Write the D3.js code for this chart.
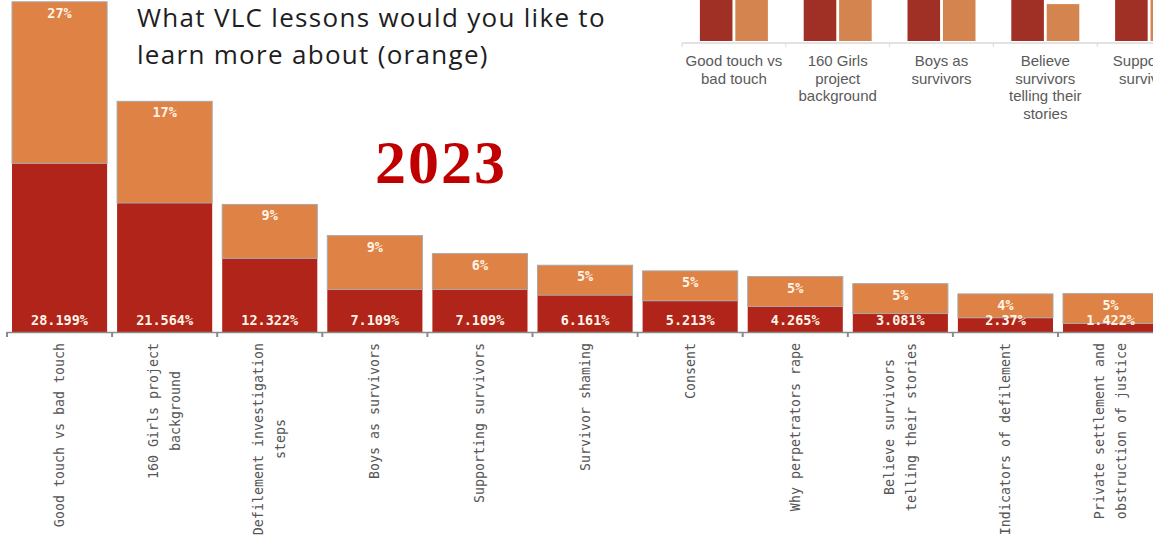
<!DOCTYPE html>
<html><head><meta charset="utf-8">
<script src="https://cdn.jsdelivr.net/npm/d3@7"></script>
<style>
html,body{margin:0;padding:0;background:#fff;overflow:hidden}
svg{display:block}
</style></head><body>
<svg id="chart" width="1153" height="548"></svg>
<script>
// 2023 survey: share who learned each lesson (dark red) and who want to learn more (orange)
const lessons = [
  "Good touch vs bad touch",
  "160 Girls project background",
  "Defilement investigation steps",
  "Boys as survivors",
  "Supporting survivors",
  "Survivor shaming",
  "Consent",
  "Why perpetrators rape",
  "Believe survivors telling their stories",
  "Indicators of defilement",
  "Private settlement and obstruction of justice"
];
const learned  = [28.199, 21.564, 12.322, 7.109, 7.109, 6.161, 5.213, 4.265, 3.081, 2.37, 1.422];
const wantMore = [27, 17, 9, 9, 6, 5, 5, 5, 5, 4, 5];

// Small comparison chart in the top-right corner (grouped bars)
const prevLessons  = ["Good touch vs bad touch", "160 Girls project background", "Boys as survivors",
                      "Believe survivors telling their stories", "Supporting survivors"];
const prevLearned  = [30, 26, 20, 16, 14];
const prevWantMore = [28, 22, 18, 6.3, 12];

const titleLines = ["What VLC lessons would you like to", "learn more about (orange)"];
const yearLabel = "2023";

const DARK = "#b0241a", ORANGE = "#df8245";
const MONO = "'DejaVu Sans Mono', 'Liberation Mono', monospace";

const svg = d3.select("#chart");

// ---------- inset grouped chart ----------
const ix = d3.scaleBand().domain(prevLessons).range([682, 682 + 5 * 103.8]);
const iSub = d3.scaleBand().domain(["learned", "want"]).range([0, 68]).paddingInner(0.08);
const iy = d3.scaleLinear().domain([0, 7]).range([41, 0]);
const inset = svg.append("g").attr("class", "inset");

const insetRows = prevLessons.map((d, i) => ({ name: d, learned: prevLearned[i], want: prevWantMore[i] }));
const ig = inset.selectAll("g.grp").data(insetRows).join("g")
  .attr("class", "grp")
  .attr("transform", d => `translate(${ix(d.name) + ix.bandwidth() / 2 - 34},0)`);
ig.append("rect")
  .attr("x", iSub("learned")).attr("width", iSub.bandwidth())
  .attr("y", d => iy(d.learned)).attr("height", d => iy(0) - iy(d.learned))
  .attr("fill", "#a03025");
ig.append("rect")
  .attr("x", iSub("want")).attr("width", iSub.bandwidth())
  .attr("y", d => iy(d.want)).attr("height", d => iy(0) - iy(d.want))
  .attr("fill", "#d4854f");

inset.append("line")
  .attr("x1", ix.range()[0]).attr("x2", 1153).attr("y1", 43).attr("y2", 43)
  .attr("stroke", "#d9d9d9").attr("stroke-width", 1.5);
inset.selectAll("line.tk").data(prevLessons).join("line")
  .attr("class", "tk")
  .attr("x1", d => ix(d)).attr("x2", d => ix(d))
  .attr("y1", 43).attr("y2", 47)
  .attr("stroke", "#d9d9d9");

// wrap inset labels to the band width
inset.selectAll("text.lbl").data(prevLessons).join("text")
  .attr("class", "lbl")
  .attr("font-family", "'Liberation Sans', Arial, sans-serif")
  .attr("font-size", 15)
  .attr("fill", "#5a5a5a")
  .attr("text-anchor", "middle")
  .each(function (d) {
    const t = d3.select(this);
    const cx = ix(d) + ix.bandwidth() / 2;
    const words = d.split(" ");
    let lines = [], cur = [];
    const probe = t.append("tspan");
    words.forEach(w => {
      const test = cur.concat(w).join(" ");
      probe.text(test);
      if (probe.node().getComputedTextLength() > 100 && cur.length) {
        lines.push(cur.join(" "));
        cur = [w];
      } else cur.push(w);
    });
    lines.push(cur.join(" "));
    probe.remove();
    lines.forEach((ln, k) => {
      t.append("tspan").attr("x", cx).attr("y", 66 + k * 17.5).text(ln);
    });
  });

// ---------- main stacked chart ----------
const x = d3.scaleBand().domain(lessons).range([7, 7 + 11 * 105.1])
  .paddingInner(0.095).paddingOuter(0.0475);
const y = d3.scaleLinear().domain([0, 55]).range([332, 3]);

const rows = lessons.map((d, i) => ({ name: d, learned: learned[i], want: wantMore[i] }));
const stack = d3.stack().keys(["learned", "want"])(rows);

const layers = svg.append("g").selectAll("g").data(stack).join("g")
  .attr("fill", (s, i) => i === 0 ? DARK : ORANGE)
  .attr("stroke", (s, i) => i === 0 ? "none" : "#a8a8a8")
  .attr("stroke-width", 1);
layers.selectAll("rect").data(s => s).join("rect")
  .attr("x", d => x(d.data.name))
  .attr("width", x.bandwidth())
  .attr("y", d => y(d[1]))
  .attr("height", d => y(d[0]) - y(d[1]));

// value labels
const vl = svg.append("g")
  .attr("font-family", MONO).attr("font-weight", "bold").attr("font-size", 13.5)
  .attr("fill", "#fff4e6").attr("text-anchor", "middle");
vl.selectAll("text.want").data(rows).join("text")
  .attr("class", "want")
  .attr("x", d => x(d.name) + x.bandwidth() / 2)
  .attr("y", d => y(d.learned + d.want) + 16)
  .text(d => d3.format("d")(d.want) + "%");
vl.selectAll("text.learned").data(rows).join("text")
  .attr("class", "learned")
  .attr("x", d => x(d.name) + x.bandwidth() / 2)
  .attr("y", y(0) - 7)
  .text(d => d.learned + "%");

// axis line and ticks at band edges
const half = (x.step() - x.bandwidth()) / 2;
svg.append("line")
  .attr("x1", 7).attr("x2", 1153).attr("y1", y(0) + 0.5).attr("y2", y(0) + 0.5)
  .attr("stroke", "#8a8a8a").attr("stroke-width", 1.5);
svg.selectAll("line.edge").data(lessons).join("line")
  .attr("class", "edge")
  .attr("x1", d => x(d) - half).attr("x2", d => x(d) - half)
  .attr("y1", y(0)).attr("y2", y(0) + 5)
  .attr("stroke", "#8a8a8a").attr("stroke-width", 2);

// rotated category labels, wrapped at 24 characters, centred lines
function wrapChars(s, n) {
  const out = []; let cur = "";
  s.split(" ").forEach(w => {
    const t = cur ? cur + " " + w : w;
    if (t.length > n && cur) { out.push(cur); cur = w; } else cur = t;
  });
  out.push(cur);
  return out;
}
const cl = svg.append("g").selectAll("g").data(lessons).join("g")
  .attr("transform", d => `translate(${x(d) + x.bandwidth() / 2},343) rotate(-90)`);
cl.each(function (d) {
  const g = d3.select(this);
  const lines = wrapChars(d, 24);
  const t = g.append("text")
    .attr("font-family", MONO).attr("font-size", 13.3)
    .attr("fill", "#555").attr("text-anchor", "middle");
  const spans = lines.map((ln, k) => t.append("tspan")
    .attr("y", (k - (lines.length - 1) / 2) * 22 + 4.5)
    .text(ln));
  const L = d3.max(spans, s => s.node().getComputedTextLength());
  spans.forEach(s => s.attr("x", -L / 2));
});

// title and year
svg.append("text")
  .attr("font-family", "'Open Sans', 'Noto Sans', sans-serif")
  .attr("font-size", 26).attr("letter-spacing", 1.3).attr("fill", "#1e1e1e")
  .selectAll("tspan").data(titleLines).join("tspan")
  .attr("x", 137).attr("y", (d, i) => 27 + i * 37)
  .text(d => d);

svg.append("text")
  .attr("x", 441).attr("y", 183)
  .attr("text-anchor", "middle")
  .attr("font-family", "'Liberation Serif', 'Times New Roman', serif")
  .attr("font-weight", "bold").attr("font-size", 62).attr("letter-spacing", 2)
  .attr("fill", "#c00000")
  .text(yearLabel);
</script>
</body></html>
